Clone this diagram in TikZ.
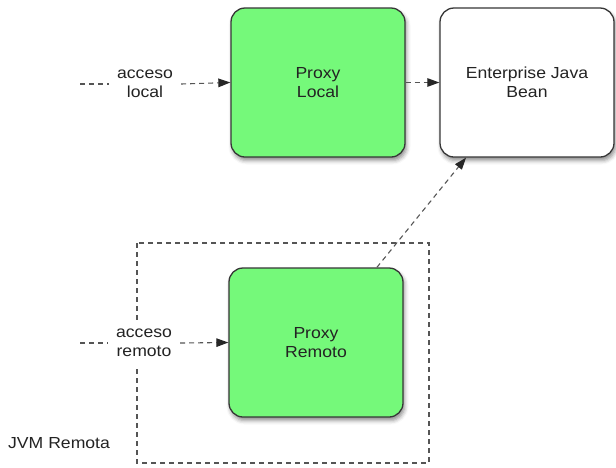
\documentclass[tikz,border=0pt]{standalone}
\usepackage{fontspec}
\setmainfont{Liberation Sans}[FakeStretch=1.1]
\usetikzlibrary{arrows.meta,shadows.blur}
\definecolor{boxgreen}{RGB}{117,249,122}
\definecolor{boxline}{RGB}{55,55,55}
\definecolor{conn}{RGB}{85,85,85}
\definecolor{txt}{RGB}{35,35,35}
\begin{document}
\begin{tikzpicture}[x=1pt,y=-1pt,
  font=\fontsize{16}{19}\selectfont,
  every node/.style={text=txt},
  box/.style={draw=boxline,line width=1.3pt,rounded corners=14pt,
    minimum width=174pt,minimum height=149pt,inner sep=0pt,align=center,
    blur shadow={shadow xshift=1.5pt,shadow yshift=-3.5pt,shadow blur radius=4pt,shadow opacity=45}},
  lbl/.style={align=center,inner sep=8pt},
  conn/.style={draw=conn,line width=1.1pt,dash pattern=on 5pt off 4pt},
  arr/.style={conn,-{Triangle[length=12pt,width=8.5pt,color=black!85]}}
]
\useasboundingbox (0,0) rectangle (616,467);
% remote JVM frame
\draw[conn] (137,243) rectangle (429,463);
% boxes
\node[box,fill=boxgreen] (plocal) at (318,82.5) {Proxy\\Local};
\node[box,fill=white] (ejb) at (527,82.5) {Enterprise Java\\Bean};
\node[box,fill=boxgreen] (prem) at (316,342.5) {Proxy\\Remoto};
% labels
\node[lbl] (acl) at (145,84) {acceso\\local};
\node[lbl,fill=white] (acr) at (144,343) {acceso\\remoto};
\node[anchor=west,inner sep=0pt] (jvm) at (8,443) {JVM Remota};
\coordinate (sl) at (80,84);
\coordinate (sr) at (80,343);
% connectors
\draw[conn] (sl) -- (acl.west);
\draw[arr] (acl.east) -- (plocal.west);
\draw[arr] (plocal.east) -- (ejb.west);
\draw[conn] (sr) -- (acr.west);
\draw[arr] (acr.east) -- (prem.west);
\draw[arr] (prem) -- (ejb);
\end{tikzpicture}
\end{document}
